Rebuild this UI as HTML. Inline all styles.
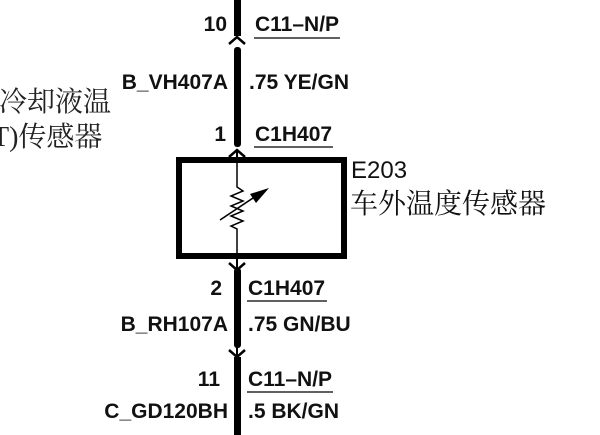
<!DOCTYPE html>
<html><head><meta charset="utf-8"><style>
html,body{margin:0;padding:0;background:#fff;width:600px;height:435px;overflow:hidden}
svg text{font-family:"Liberation Sans",Arial,sans-serif;font-weight:bold;font-size:21px;fill:#111}
.cj{font-family:"Liberation Serif","Noto Serif CJK SC",serif;font-weight:normal;font-size:28px;fill:#222}
.e{font-family:"Liberation Sans","Noto Sans CJK SC",sans-serif;font-weight:normal;font-size:24px;fill:#111}
.e2{font-family:"Liberation Serif","Noto Serif CJK SC",serif;font-weight:normal;font-size:28px;fill:#111}
</style></head><body>
<svg width="600" height="435" viewBox="0 0 600 435" xmlns="http://www.w3.org/2000/svg">
<rect x="234" y="0" width="7" height="36" fill="#000"/>
<path d="M229 44 L237 37 L245 44" stroke="#000" stroke-width="2.5" fill="none"/>
<rect x="234" y="47" width="7" height="100" rx="3" fill="#000"/>
<path d="M229 157 L237 150 L245 157" stroke="#000" stroke-width="2.5" fill="none"/>
<line x1="237" y1="150" x2="237" y2="160" stroke="#000" stroke-width="2"/>
<rect x="179" y="160" width="165" height="96" fill="none" stroke="#000" stroke-width="6"/>
<path d="M237 160 V187 L243 191 L231 196 L243 201 L231 206 L243 211 L231 216 L243 221 L231 226 L237 229 V256" stroke="#000" stroke-width="1.5" fill="none"/>
<line x1="220" y1="220" x2="262" y2="192" stroke="#000" stroke-width="1.5"/>
<path d="M269 188 L250 194 L256 203 Z" fill="#000"/>
<line x1="237" y1="256" x2="237" y2="268" stroke="#000" stroke-width="2"/>
<path d="M229 263 L237 270 L245 263" stroke="#000" stroke-width="2.5" fill="none"/>
<rect x="234" y="268" width="7" height="80" rx="3" fill="#000"/>
<line x1="237" y1="345" x2="237" y2="356" stroke="#000" stroke-width="2"/>
<path d="M229 350 L237 357 L245 350" stroke="#000" stroke-width="2.5" fill="none"/>
<rect x="234" y="357" width="7" height="78" fill="#000"/>
<text x="227" y="31" text-anchor="end">10</text>
<text x="255" y="31">C11–N/P</text>
<line x1="254" y1="38" x2="340" y2="38" stroke="#000" stroke-width="1.3"/>
<text x="228" y="89" text-anchor="end">B_VH407A</text>
<text x="249" y="89">.75 YE/GN</text>
<text x="226" y="141" text-anchor="end">1</text>
<text x="255" y="141">C1H407</text>
<line x1="254" y1="147" x2="333" y2="147" stroke="#000" stroke-width="1.3"/>
<text x="222" y="295" text-anchor="end">2</text>
<text x="248" y="295">C1H407</text>
<line x1="247" y1="301" x2="327" y2="301" stroke="#000" stroke-width="1.3"/>
<text x="228" y="331" text-anchor="end">B_RH107A</text>
<text x="248" y="331">.75 GN/BU</text>
<text x="220" y="386" text-anchor="end">11</text>
<text x="248" y="386">C11–N/P</text>
<line x1="247" y1="392" x2="333" y2="392" stroke="#000" stroke-width="1.3"/>
<text x="228" y="418" text-anchor="end">C_GD120BH</text>
<text x="248" y="418">.5 BK/GN</text>
<text class="e" x="351" y="178">E203</text>
<text class="e2" x="350" y="213">车外温度传感器</text>
<text class="cj" x="-1" y="111">冷却液温</text>
<text class="cj" x="-8" y="146">T)传感器</text>
</svg>
</body></html>
